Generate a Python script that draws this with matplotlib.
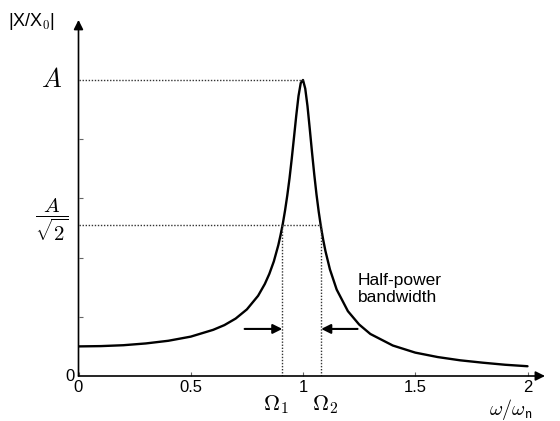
import matplotlib
matplotlib.use("Agg")
import matplotlib.pyplot as plt

plt.rcParams['font.family'] = ['Liberation Sans', 'DejaVu Sans']
plt.rcParams['mathtext.fontset'] = 'cm'

# frequency ratio and amplitude (peak A = 1)
r = [0.0, 0.1, 0.2, 0.3, 0.4, 0.5, 0.6, 0.65, 0.7, 0.75, 0.8, 0.83, 0.85,
     0.87, 0.89, 0.9, 0.91, 0.92, 0.93, 0.94, 0.95, 0.96, 0.97, 0.98, 0.99,
     1.0, 1.01, 1.02, 1.03, 1.04, 1.05, 1.06, 1.07, 1.08, 1.09, 1.1, 1.12,
     1.15, 1.2, 1.25, 1.3, 1.4, 1.5, 1.6, 1.7, 1.8, 1.9, 2.0]
amp = [0.100, 0.101, 0.104, 0.110, 0.119, 0.133, 0.156, 0.172, 0.194, 0.225,
       0.271, 0.311, 0.345, 0.387, 0.442, 0.476, 0.514, 0.559, 0.610, 0.668,
       0.735, 0.807, 0.880, 0.946, 0.990, 1.000, 0.971, 0.912, 0.836, 0.757,
       0.682, 0.614, 0.555, 0.504, 0.460, 0.422, 0.360, 0.292, 0.219, 0.174,
       0.142, 0.103, 0.079, 0.064, 0.053, 0.045, 0.038, 0.033]

peak = 1.0
half = 0.51
omega1 = 0.908
omega2 = 1.081
xticks = [0, 0.5, 1, 1.5, 2]
xtick_labels = ['0', '0.5', '1', '1.5', '2']
yticks = [0.2, 0.4, 0.6, 0.8]

fig = plt.figure(figsize=(5.6, 4.21), dpi=100)
ax = fig.add_axes([78.5 / 560, 45 / 421, 2.2 * 224.5 / 560, 1.25 * 296 / 421])
ax.set_xlim(0, 2.2)
ax.set_ylim(0, 1.25)
for s in ax.spines.values():
    s.set_visible(False)

# axes with arrow heads
ax.annotate('', xy=(2.078, 0), xytext=(0, 0),
            arrowprops=dict(arrowstyle='-|>', color='black', lw=1.2,
                            mutation_scale=14, shrinkA=0, shrinkB=0),
            annotation_clip=False)
ax.annotate('', xy=(0, 1.203), xytext=(0, 0),
            arrowprops=dict(arrowstyle='-|>', color='black', lw=1.2,
                            mutation_scale=14, shrinkA=0, shrinkB=0),
            annotation_clip=False)

ax.set_xticks(xticks)
ax.set_xticklabels(xtick_labels)
ax.set_yticks(yticks)
ax.set_yticklabels([])
ax.tick_params(axis='both', direction='in', length=3, width=0.8,
               color='#666666', labelsize=12)
ax.tick_params(axis='x', pad=3)

# response curve
ax.plot(r, amp, color='black', lw=1.7, solid_capstyle='round')

# dotted guide lines
dot = dict(color='#333333', lw=1.0, linestyle=(0, (1, 1.2)))
ax.plot([0, 1.0], [peak, peak], **dot)
ax.plot([0, omega2], [half, half], **dot)
ax.plot([omega1, omega1], [0, half], **dot)
ax.plot([omega2, omega2], [0, half], **dot)

# bandwidth arrows
ax.annotate('', xy=(omega1, 0.159), xytext=(0.74, 0.159),
            arrowprops=dict(arrowstyle='-|>', color='black', lw=1.5,
                            mutation_scale=14, shrinkA=0, shrinkB=0))
ax.annotate('', xy=(omega2, 0.159), xytext=(1.243, 0.159),
            arrowprops=dict(arrowstyle='-|>', color='black', lw=1.5,
                            mutation_scale=14, shrinkA=0, shrinkB=0))
ax.text(1.243, 0.294, 'Half-power\nbandwidth', fontsize=12.5, ha='left',
        va='center', linespacing=1.1)

# labels
ax.text(-0.04, -0.003, '0', fontsize=12, ha='center', va='center')
ax.text(-0.118, peak, r'$A$', fontsize=19, ha='center', va='center')
ax.text(-0.118, half + 0.02, r'$\dfrac{A}{\sqrt{2}}$', fontsize=15,
        ha='center', va='center')
ax.text(-0.207, 1.196, r'|X/X$_0$|', fontsize=13, ha='center', va='center',
        clip_on=False)
ax.text(0.88, -0.098, r'$\Omega_\mathsf{1}$', fontsize=16, ha='center', va='center')
ax.text(1.10, -0.098, r'$\Omega_\mathsf{2}$', fontsize=16, ha='center', va='center')
ax.text(1.926, -0.113, r'$\omega/\omega_\mathsf{n}$', fontsize=14.5,
        ha='center', va='center')

fig.savefig('out.png', dpi=100)
